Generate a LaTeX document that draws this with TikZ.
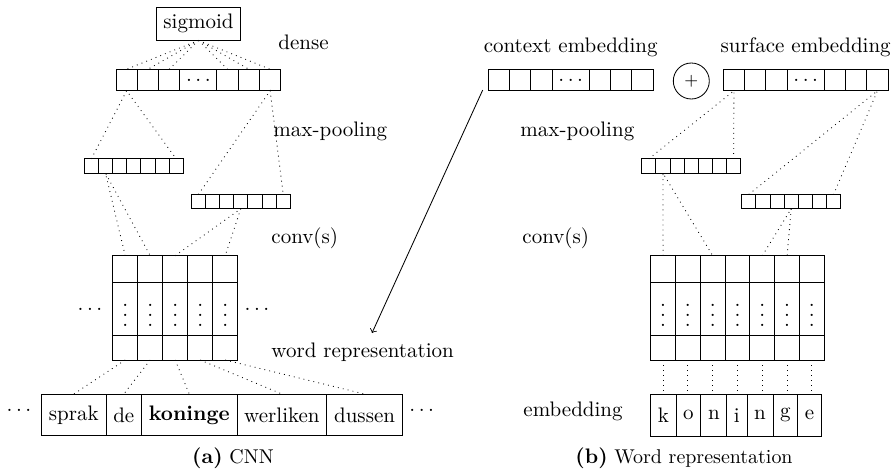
\documentclass[tikz,border=0pt]{standalone}
\usetikzlibrary{calc}
\newcommand\myvdots{\vbox{\baselineskip4.8pt\lineskiplimit0pt\hbox{.}\hbox{.}\hbox{.}}}
\newcommand\mydots{.\kern.16667em.\kern.16667em.}
\begin{document}
\begin{tikzpicture}[x=0.476pt,y=-0.476pt,
  vcell/.style={draw, inner sep=0pt, outer sep=0pt, minimum width=21.3*0.476pt, minimum height=21.5*0.476pt},
  vwide/.style={vcell, minimum width=37*0.476pt},
  pcell/.style={draw, inner sep=0pt, outer sep=0pt, minimum width=14.14*0.476pt, minimum height=14.3*0.476pt},
  gcell/.style 2 args={draw, inner sep=0pt, outer sep=0pt, minimum width=#1*0.476pt, minimum height=#2*0.476pt},
  wcell/.style={draw, anchor=west, outer sep=0pt, inner xsep=3.46pt, minimum height=41.7*0.476pt},
  kcell/.style={wcell, inner xsep=3.4pt},
  conn/.style={dotted},
  lbl/.style={anchor=west, inner sep=0pt},
  vd/.style={inner sep=0pt},
  capt/.style={font=\fontsize{9.5}{11}\selectfont},
]
\useasboundingbox (0,0) rectangle (894,469);

% ---------- (a) CNN ----------
\node[draw] (sig) at (198.5,23.5) {sigmoid};

\foreach \n/\xo in {d/116, c/488.3, s/723.3} {
  \foreach \i in {1,2,3} \node[vcell] (\n\i) at ({\xo+21.3*(\i-0.5)},80) {};
  \node[vwide] (\n4) at ({\xo+63.9+18.5},80) {\mydots};
  \foreach \i in {5,6,7} \node[vcell] (\n\i) at ({\xo+100.9+21.3*(\i-4.5)},80) {};
}

\foreach \n/\xo/\yc in {p/84.3/166, r/191.3/201.6, q/641.7/166, t/741.7/201.6}
  \foreach \i in {1,...,7} \node[pcell] (\n\i) at ({\xo+14.14*(\i-0.5)},\yc) {};

\foreach \c in {1,...,5} {
  \node[gcell={25}{26.6}] (la\c) at ({112.7+25*(\c-0.5)},269) {};
  \node[gcell={25}{52.7}] (lb\c) at ({112.7+25*(\c-0.5)},308.65) {};
  \node[gcell={25}{25}]   (lc\c) at ({112.7+25*(\c-0.5)},347.5) {};
  \node[vd] (lv\c) at ({112.7+25*(\c-0.5)},315) {\myvdots};
}
\node (gl) at (90,309) {\mydots};
\node (gr) at (257,309) {\mydots};

\node[wcell] (w1) at (41.7,414.85) {sprak};
\node[wcell] (w2) at (w1.east) {de};
\node[wcell] (w3) at (w2.east) {\textbf{koninge}};
\node[wcell] (w4) at (w3.east) {werliken};
\node[wcell] (w5) at (w4.east) {dussen};
\node (wl) at (19,410.7) {\mydots};
\node (wr) at (421.7,410.7) {\mydots};

\foreach \i in {1,2,3,5,6,7} \draw[conn] (sig.south) -- (d\i.north);
\draw[conn] (p1.north) -- (d1.south) -- (p7.north);
\draw[conn] (r1.north) -- (d7.south) -- (r7.north);
\draw[conn] (la1.north) -- (p2.south) -- (la2.north);
\draw[conn] (la3.north) -- (r4.south) -- (la5.north);
\foreach \i in {1,...,5} \draw[conn] (lc\i.south) -- (w\i.north);

\node[lbl] (ldense) at (278,42) {dense};
\node[lbl] (lmax) at (273,131) {max-pooling};
\node[lbl] (lconv) at (271,238) {conv(s)};
\node[lbl] (lword) at (271,352) {word representation};
\node[capt] (capa) at (233,458) {{\normalsize\textbf{(a)}} CNN};

% ---------- (b) Word representation ----------
\node[draw, circle, inner sep=0pt, minimum size=36*0.476pt, font=\footnotesize] (plus) at (691.3,81) {$+$};
\node (lctx) at (570.7,47) {context embedding};
\node (lsurf) at (805.7,47) {surface embedding};

\foreach \c in {1,...,7} {
  \node[gcell={24.8}{26.6}] (ra\c) at ({650.7+24.8*(\c-0.5)},269) {};
  \node[gcell={24.8}{52.7}] (rb\c) at ({650.7+24.8*(\c-0.5)},308.65) {};
  \node[gcell={24.8}{25}]   (rc\c) at ({650.7+24.8*(\c-0.5)},347.5) {};
  \node[vd] (rv\c) at ({650.7+24.8*(\c-0.5)},315) {\myvdots};
}

\node[kcell] (k1) at (650.7,415.15) {k};
\node[kcell] (k2) at (k1.east) {o};
\node[kcell] (k3) at (k2.east) {n};
\node[kcell] (k4) at (k3.east) {i};
\node[kcell] (k5) at (k4.east) {n};
\node[kcell] (k6) at (k5.east) {g};
\node[kcell] (k7) at (k6.east) {e};

\draw[conn] (q1.north) -- (s1.south) -- (q7.north);
\draw[conn] (t1.north) -- (s7.south) -- (t7.north);
\draw[conn] (ra1.north) -- (q2.south) -- (ra3.north);
\draw[conn] (ra5.north) -- (t4.south) -- (ra6.north);
\foreach \i in {1,...,7} \draw[conn] (rc\i.south) -- (rc\i.south |- k\i.north);

\node[lbl] (rmax) at (520,131) {max-pooling};
\node[lbl] (rconv) at (522,238) {conv(s)};
\node[lbl] (remb) at (523,411) {embedding};
\node[capt] (capb) at (684,458) {{\normalsize\textbf{(b)}} Word representation};

\coordinate (aend) at (372,333);
\draw[->] ($(c1.south west)+(-5.6,-0.7)$) -- (aend);
\end{tikzpicture}
\end{document}
